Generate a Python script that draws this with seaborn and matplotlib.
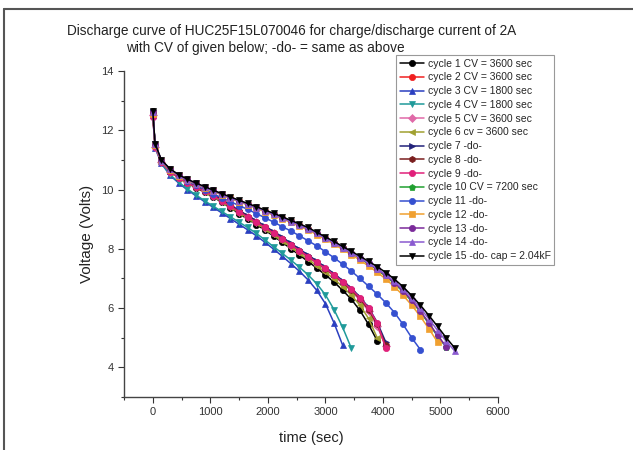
import matplotlib
matplotlib.use("Agg")
import matplotlib.pyplot as plt
import seaborn as sns
from matplotlib.lines import Line2D
from matplotlib.ticker import MultipleLocator

sns.set_style("ticks")
plt.rcParams['font.family'] = ['Liberation Sans', 'DejaVu Sans']

# --- data ---
TIME = [0, 40, 150, 300, 450, 600, 750, 900, 1050, 1200, 1350, 1500, 1650, 1800,
        1950, 2100, 2250, 2400, 2550, 2700, 2850, 3000, 3150, 3300, 3450, 3600,
        3750, 3900, 4050, 4200, 4350, 4500, 4650, 4800, 4950, 5100, 5250]

# CV = 3600 sec group
V1 = [12.65, 11.5, 10.95, 10.6, 10.4, 10.22, 10.06, 9.91, 9.75, 9.57, 9.38, 9.19, 9.0, 8.82,
      8.63, 8.43, 8.22, 8.0, 7.79, 7.57, 7.35, 7.12, 6.88, 6.6, 6.3, 5.92, 5.45, 4.9]
V2 = [12.6, 11.5, 10.95, 10.62, 10.42, 10.25, 10.1, 9.96, 9.8, 9.62, 9.44, 9.25, 9.07, 8.9,
      8.72, 8.53, 8.33, 8.12, 7.92, 7.72, 7.52, 7.32, 7.1, 6.86, 6.6, 6.3, 5.93, 5.42, 4.7]
# CV = 1800 sec group
V3 = [12.5, 11.4, 10.88, 10.48, 10.22, 9.99, 9.79, 9.59, 9.4, 9.21, 9.02, 8.83, 8.64, 8.44,
      8.22, 7.99, 7.75, 7.5, 7.24, 6.95, 6.6, 6.15, 5.5, 4.75]
V4 = [12.55, 11.45, 10.9, 10.5, 10.25, 10.02, 9.82, 9.62, 9.44, 9.26, 9.08, 8.9, 8.72, 8.52,
      8.3, 8.07, 7.85, 7.62, 7.38, 7.12, 6.82, 6.45, 5.95, 5.35, 4.65]
V5 = [12.5, 11.45, 10.92, 10.6, 10.41, 10.24, 10.09, 9.95, 9.79, 9.61, 9.43, 9.24, 9.06, 8.89,
      8.71, 8.52, 8.32, 8.11, 7.91, 7.71, 7.5, 7.3, 7.08, 6.84, 6.57, 6.27, 5.9, 5.38, 4.72]
V6 = [12.55, 11.48, 10.93, 10.6, 10.4, 10.23, 10.08, 9.93, 9.77, 9.59, 9.41, 9.22, 9.04, 8.86,
      8.67, 8.47, 8.27, 8.06, 7.85, 7.64, 7.43, 7.21, 6.98, 6.72, 6.44, 6.1, 5.65, 5.0]
V7 = [12.6, 11.52, 10.97, 10.64, 10.44, 10.27, 10.12, 9.98, 9.83, 9.66, 9.48, 9.3, 9.12, 8.95,
      8.77, 8.58, 8.39, 8.19, 7.99, 7.79, 7.59, 7.38, 7.16, 6.93, 6.67, 6.38, 6.02, 5.52, 4.85]
V8 = [12.58, 11.5, 10.95, 10.62, 10.42, 10.25, 10.1, 9.96, 9.81, 9.63, 9.45, 9.27, 9.09, 8.91,
      8.73, 8.54, 8.34, 8.14, 7.94, 7.74, 7.54, 7.33, 7.11, 6.87, 6.61, 6.31, 5.95, 5.45, 4.75]
V9 = [12.45, 11.45, 10.92, 10.6, 10.4, 10.23, 10.08, 9.94, 9.79, 9.61, 9.43, 9.25, 9.07, 8.9,
      8.72, 8.53, 8.34, 8.14, 7.94, 7.74, 7.54, 7.34, 7.12, 6.89, 6.64, 6.35, 6.0, 5.5, 4.65]
# CV = 7200 sec group
V10 = [12.6, 11.5, 10.97, 10.67, 10.47, 10.32, 10.19, 10.07, 9.95, 9.83, 9.71, 9.6, 9.49, 9.38,
       9.27, 9.15, 9.03, 8.91, 8.79, 8.66, 8.51, 8.35, 8.19, 8.02, 7.85, 7.68, 7.49, 7.29, 7.07,
       6.83, 6.55, 6.23, 5.87, 5.47, 5.05, 4.68]
V11 = [12.6, 11.52, 10.97, 10.65, 10.45, 10.28, 10.14, 10.0, 9.86, 9.72, 9.59, 9.46, 9.33, 9.19,
       9.05, 8.9, 8.75, 8.6, 8.44, 8.27, 8.1, 7.9, 7.7, 7.48, 7.25, 7.0, 6.74, 6.47, 6.18, 5.85,
       5.45, 5.0, 4.6]
V12 = [12.55, 11.5, 10.96, 10.66, 10.46, 10.31, 10.18, 10.06, 9.94, 9.82, 9.7, 9.59, 9.48, 9.37,
       9.25, 9.13, 9.01, 8.89, 8.76, 8.63, 8.48, 8.32, 8.15, 7.98, 7.8, 7.62, 7.42, 7.21, 6.98,
       6.72, 6.43, 6.1, 5.72, 5.3, 4.85]
V13 = [12.62, 11.53, 10.99, 10.69, 10.49, 10.34, 10.21, 10.09, 9.97, 9.85, 9.73, 9.62, 9.51, 9.4,
       9.29, 9.17, 9.05, 8.93, 8.81, 8.68, 8.53, 8.37, 8.21, 8.04, 7.87, 7.7, 7.51, 7.31, 7.1,
       6.86, 6.58, 6.26, 5.9, 5.5, 5.08, 4.7]
V14 = [12.6, 11.52, 10.98, 10.68, 10.48, 10.33, 10.2, 10.08, 9.96, 9.84, 9.72, 9.61, 9.5, 9.39,
       9.28, 9.16, 9.04, 8.92, 8.8, 8.67, 8.52, 8.36, 8.2, 8.03, 7.87, 7.7, 7.52, 7.33, 7.13,
       6.9, 6.64, 6.34, 6.0, 5.63, 5.25, 4.88, 4.55]
V15 = [12.65, 11.55, 11.0, 10.7, 10.5, 10.35, 10.22, 10.1, 9.98, 9.86, 9.75, 9.64, 9.53, 9.42,
       9.31, 9.2, 9.08, 8.96, 8.84, 8.72, 8.56, 8.4, 8.25, 8.08, 7.92, 7.75, 7.58, 7.4, 7.2,
       6.98, 6.72, 6.42, 6.1, 5.75, 5.38, 5.0, 4.65]

SERIES = [V1, V2, V3, V4, V5, V6, V7, V8, V9, V10, V11, V12, V13, V14, V15]
LABELS = ['cycle 1 CV = 3600 sec', 'cycle 2 CV = 3600 sec', 'cycle 3 CV = 1800 sec',
          'cycle 4 CV = 1800 sec', 'cycle 5 CV = 3600 sec', 'cycle 6 cv = 3600 sec',
          'cycle 7 -do-', 'cycle 8 -do-', 'cycle 9 -do-', 'cycle 10 CV = 7200 sec',
          'cycle 11 -do-', 'cycle 12 -do-', 'cycle 13 -do-', 'cycle 14 -do-',
          'cycle 15 -do- cap = 2.04kF']
COLORS = ['#000000', '#f02020', '#2a3fc0', '#1f9a9a', '#e06aa8', '#a0a030', '#22227a',
          '#7a1e1e', '#e0207a', '#20a030', '#3550d0', '#f0a030', '#7a2a9a', '#8a5ad0', '#000000']
MARKERS = ['o', 'o', '^', 'v', 'D', '<', '>', 'h', 'o', 'p', 'o', 's', 'o', '^', 'v']

fig = plt.figure(figsize=(6.33, 4.5), dpi=100)
ax = fig.add_axes([124 / 633, 1 - 397 / 450, (498 - 124) / 633, (397 - 71) / 450])

for v, lab, c, m in zip(SERIES, LABELS, COLORS, MARKERS):
    sns.lineplot(x=TIME[:len(v)], y=v, color=c, marker=m, markersize=4.5,
                 markeredgewidth=0.5, markeredgecolor=c, linewidth=1.1,
                 label=lab, ax=ax)

ax.set_xlim(-500, 6000)
ax.set_ylim(3, 14)
ax.xaxis.set_major_locator(MultipleLocator(1000))
ax.xaxis.set_minor_locator(MultipleLocator(500))
ax.yaxis.set_minor_locator(MultipleLocator(1))
ax.set_yticks([4, 6, 8, 10, 12, 14])
ax.tick_params(which='major', length=4, width=0.8, labelsize=8, colors='#333333')
ax.tick_params(which='minor', length=2.5, width=0.8, colors='#333333')
sns.despine(ax=ax)
for s in ['left', 'bottom']:
    ax.spines[s].set_color('#444444')
    ax.spines[s].set_linewidth(1)

ax.set_xlabel('time (sec)', fontsize=10.5, color='#222222')
ax.set_ylabel('Voltage (Volts)', fontsize=11, color='#222222')
ax.xaxis.set_label_coords(0.5, -0.103)
ax.yaxis.set_label_coords(-0.08, 0.5)

fig.text(292 / 633, 1 - 31 / 450,
         'Discharge curve of HUC25F15L070046 for charge/discharge current of 2A',
         ha='center', va='center', fontsize=9.8, color='#222222')
fig.text(265 / 633, 1 - 48 / 450, 'with CV of given below; -do- = same as above',
         ha='center', va='center', fontsize=9.8, color='#222222')

leg = ax.legend(loc='upper left', bbox_to_anchor=(396 / 633, 1 - 55 / 450),
                bbox_transform=fig.transFigure, fontsize=7.5, frameon=True,
                fancybox=False, edgecolor='#999999', framealpha=1,
                borderpad=0.35, labelspacing=0.36, handlelength=2.3,
                handletextpad=0.4, borderaxespad=0)
leg.get_frame().set_linewidth(0.8)

# thin frame round the picture (top and left edges)
fig.add_artist(Line2D([4 / 633, 1], [1 - 9 / 450, 1 - 9 / 450], color='#555555', linewidth=1.5))
fig.add_artist(Line2D([4 / 633, 4 / 633], [0, 1 - 9 / 450], color='#555555', linewidth=1.5))

fig.savefig('out.png', dpi=100)
